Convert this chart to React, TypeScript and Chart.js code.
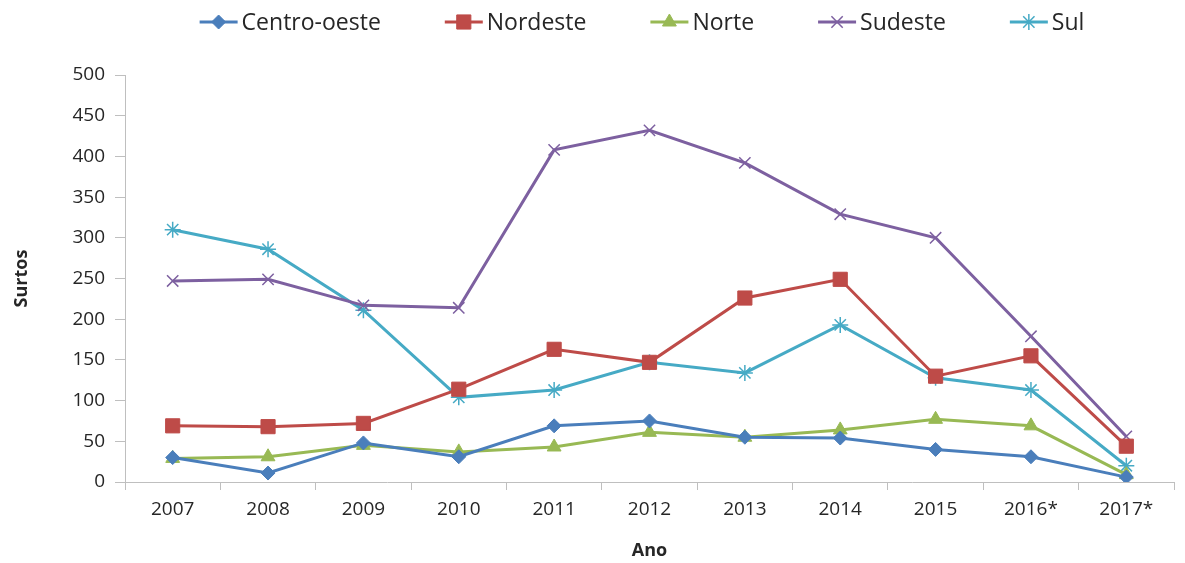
import React, { useEffect, useRef } from "react";
import { Chart, registerables } from "chart.js";
import { drawPoint } from "chart.js/helpers";

Chart.register(...registerables);

const years = ["2007", "2008", "2009", "2010", "2011", "2012", "2013", "2014", "2015", "2016*", "2017*"];
const centroOeste = [30, 11, 48, 31, 69, 75, 55, 54, 40, 31, 6];
const nordeste = [69, 68, 72, 114, 163, 147, 226, 249, 130, 155, 44];
const norte = [29, 31, 45, 37, 43, 61, 55, 64, 77, 69, 9];
const sudeste = [247, 249, 217, 214, 408, 432, 392, 329, 300, 179, 56];
const sul = [310, 286, 211, 104, 113, 147, 134, 193, 128, 113, 20];
const yTicks = [0, 50, 100, 150, 200, 250, 300, 350, 400, 450, 500];

const FONT = '"Open Sans", "DejaVu Sans", sans-serif';

const legendPlugin = {
  id: "lineLegend",
  afterDraw(chart: any) {
    const ctx = chart.ctx;
    ctx.save();
    ctx.font = `23px ${FONT}`;
    const lineLen = 38;
    const gapText = 4;
    const gapItem = 64;
    const dss = chart.data.datasets;
    const widths = dss.map((ds: any) => lineLen + gapText + ctx.measureText(ds.label).width);
    const total = widths.reduce((a: number, b: number) => a + b, 0) + gapItem * (widths.length - 1);
    let x = 642 - total / 2;
    const y = 22;
    dss.forEach((ds: any, i: number) => {
      ctx.strokeStyle = ds.borderColor;
      ctx.lineWidth = 3;
      ctx.beginPath();
      ctx.moveTo(x, y);
      ctx.lineTo(x + lineLen, y);
      ctx.stroke();
      ctx.fillStyle = ds.pointBackgroundColor;
      ctx.strokeStyle = ds.pointBorderColor;
      ctx.lineWidth = ds.pointBorderWidth;
      drawPoint(ctx, { pointStyle: ds.pointStyle, radius: ds.pointRadius, borderWidth: ds.pointBorderWidth, rotation: 0 }, x + lineLen / 2, y);
      ctx.fillStyle = "#262626";
      ctx.textBaseline = "middle";
      ctx.textAlign = "left";
      ctx.fillText(ds.label, x + lineLen + gapText, y + 1);
      x += widths[i] + gapItem;
    });
    ctx.restore();
  },
};

function mk(label: string, data: number[], color: string, style: string, radius: number, pointColor?: string) {
  const pc = pointColor || color;
  return {
    label,
    data,
    borderColor: color,
    backgroundColor: color,
    borderWidth: 3,
    pointStyle: style,
    pointRadius: radius,
    pointHoverRadius: radius,
    pointBackgroundColor: pc,
    pointBorderColor: pc,
    pointBorderWidth: style === "crossRot" || style === "star" ? 1.5 : 1,
    tension: 0,
  };
}

export default function App() {
  const ref = useRef<HTMLCanvasElement>(null);
  useEffect(() => {
    if (!ref.current) return;
    const chart = new Chart(ref.current, {
      type: "line",
      data: {
        labels: years,
        datasets: [
          mk("Centro-oeste", centroOeste, "#4A7EBB", "rectRot", 7),
          mk("Nordeste", nordeste, "#BE4B48", "rect", 10),
          mk("Norte", norte, "#98B954", "triangle", 8),
          mk("Sudeste", sudeste, "#7D60A0", "crossRot", 8),
          mk("Sul", sul, "#46AAC5", "star", 8),
        ] as any,
      },
      options: {
        animation: false,
        responsive: false,
        layout: { padding: { top: 75, left: 0, right: 0, bottom: 0 } },
        plugins: { legend: { display: false }, tooltip: { enabled: false } },
        scales: {
          x: {
            offset: true,
            grid: { drawOnChartArea: false, drawTicks: true, tickLength: 8, color: "#BFBFBF", offset: true },
            border: { color: "#BFBFBF", width: 1 },
            ticks: { font: { family: FONT, size: 19 }, color: "#262626", padding: 8, maxRotation: 0 },
            title: { display: true, text: "Ano", font: { family: FONT, size: 18, weight: "bold" }, color: "#262626", padding: { top: 0, bottom: 1 } },
            afterFit(s: any) { s.height = 81; },
          },
          y: {
            min: 0,
            max: 500,
            afterBuildTicks(s: any) { s.ticks = yTicks.map((v) => ({ value: v })); },
            grid: { drawOnChartArea: false, drawTicks: true, tickLength: 10, color: "#BFBFBF" },
            border: { color: "#BFBFBF", width: 1 },
            ticks: { font: { family: FONT, size: 19 }, color: "#262626", padding: 10 },
            title: { display: true, text: "Surtos", font: { family: FONT, size: 18, weight: "bold" }, color: "#262626", padding: { top: 11, bottom: 0 } },
            afterFit(s: any) { s.width = 125; },
          },
        },
      } as any,
      plugins: [legendPlugin],
    });
    return () => chart.destroy();
  }, []);
  return (
    <div style={{ position: "absolute", left: 0, top: 0, width: 1185, height: 563, background: "#fff" }}>
      <canvas ref={ref} width={1185} height={563} style={{ width: 1185, height: 563, display: "block" }} />
    </div>
  );
}
